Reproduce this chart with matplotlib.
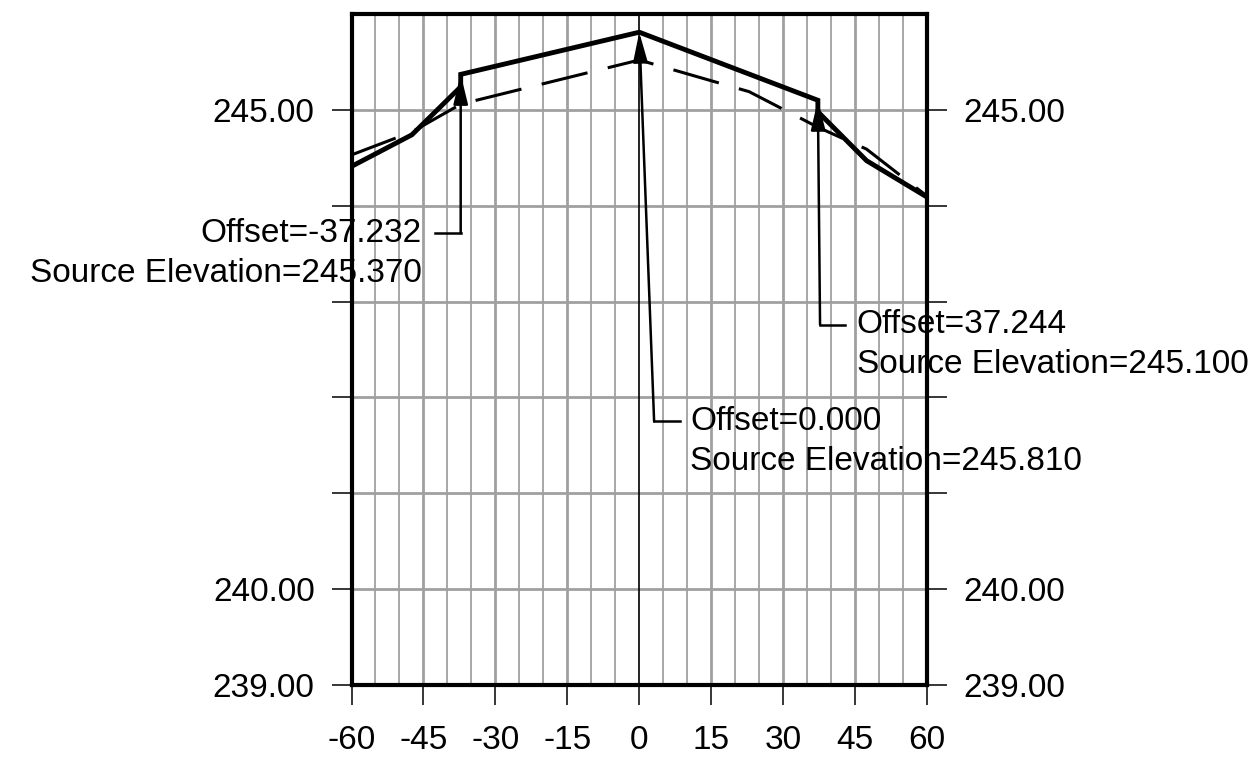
import matplotlib
matplotlib.use("Agg")
import matplotlib.pyplot as plt
import numpy as np

plt.rcParams["font.family"] = ["Liberation Sans", "DejaVu Sans"]
plt.rcParams["lines.scale_dashes"] = False

# thick profile (with small vertical steps at the two edges)
prof_x = [-60, -47.4, -37.232, -37.232, 0, 37.244, 37.244, 47.4, 60]
prof_y = [244.41, 244.74, 245.24, 245.37, 245.81, 245.10, 244.98, 244.47, 244.09]

# dashed profile
dash_x = [-60, -47.4, -37.2, 0, 22.9, 37.2, 47.4, 60]
dash_y = [244.53, 244.77, 245.06, 245.52, 245.19, 244.82, 244.59, 244.10]

# labelled points: offset, source elevation
pt_offset = [-37.232, 0.000, 37.244]
pt_elev = [245.370, 245.810, 245.100]

x_ticks = [-60, -45, -30, -15, 0, 15, 30, 45, 60]
y_ticks = [239, 240, 241, 242, 243, 244, 245]
y_label_ticks = [239, 240, 245]

fig = plt.figure(figsize=(12.48, 7.7), dpi=100)
ax = fig.add_axes([351.5 / 1248, 1 - 685 / 770, 575.5 / 1248, 671 / 770])
ax.set_xlim(-60, 60)
ax.set_ylim(239, 246)

# grid
for gx in np.arange(-55, 60, 5):
    if gx == 0:
        continue
    lw = 2.0 if gx % 15 == 0 else 1.3
    ax.axvline(gx, color="#a0a0a0", lw=lw, zorder=1)
for gy in range(240, 246):
    ax.axhline(gy, color="#a0a0a0", lw=2.0, zorder=1)
ax.axvline(0, color="black", lw=1.2, zorder=1.5)

ax.plot(prof_x, prof_y, color="black", lw=3.5, solid_joinstyle="miter", zorder=4)
ax.plot(dash_x, dash_y, color="black", lw=2.2, linestyle=(0, (34, 15)), zorder=3)

# annotation leaders
corners = [(-37.232, 243.715), (3.1, 241.75), (37.7, 242.76)]
h_ends = [-42.5, 8.5, 42.9]
text_x = [-45.3, 10.6, 45.35]
text_ha = ["right", "left", "left"]
for off, elev, (cx, cy), hx, tx, ha in zip(pt_offset, pt_elev, corners, h_ends, text_x, text_ha):
    ax.plot([hx, cx], [cy, cy], color="black", lw=1.8, zorder=4, clip_on=False)
    ax.annotate("", xy=(off, elev), xytext=(cx, cy),
                arrowprops=dict(arrowstyle="-|>,head_length=0.9,head_width=0.22",
                                mutation_scale=20, color="black", lw=1.8,
                                shrinkA=0, shrinkB=0),
                zorder=5)
    ax.text(tx, cy, f"Offset={off:.3f}", ha=ha, va="center", fontsize=24,
            zorder=2, clip_on=False)
    ax.text(tx, cy - 0.42, f"Source Elevation={elev:.3f}", ha=ha, va="center",
            fontsize=24, zorder=2, clip_on=False)

# ticks
ax.set_xticks(x_ticks)
ax.set_xticklabels([str(v) for v in x_ticks])
ax.set_yticks(y_ticks)
ax.set_yticklabels([f"{v:.2f}" if v in y_label_ticks else "" for v in y_ticks])
ax.tick_params(axis="x", direction="out", length=14.5, width=1.1, pad=14, labelsize=24)
ax.tick_params(axis="y", direction="out", length=14.5, width=1.1, pad=12, labelsize=24,
               left=True, right=True, labelleft=True, labelright=True)
for sp in ax.spines.values():
    sp.set_linewidth(3.0)
    sp.set_zorder(6)

fig.savefig("out.png", dpi=100)
